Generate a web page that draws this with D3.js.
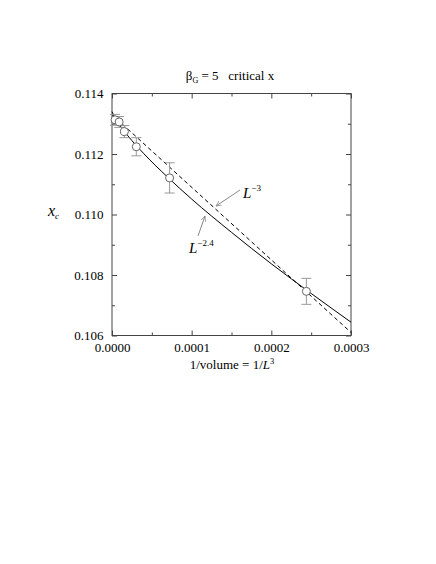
<!DOCTYPE html>
<html>
<head>
<meta charset="utf-8">
<script src="https://cdn.jsdelivr.net/npm/d3@7"></script>
<style>
  body { margin: 0; background: #fff; }
</style>
</head>
<body>
<div id="chart"></div>
<script>
// measured points: 1/L^3 and critical x with error
const invVolume = [0.0000038, 0.0000090, 0.0000156, 0.0000305, 0.0000723, 0.000244];
const xCrit = [0.11313, 0.11306, 0.11274, 0.11224, 0.11121, 0.10746];
const xCritErr = [0.00018, 0.00018, 0.0002, 0.0003, 0.0005, 0.00043];

// fit curves
const fit24X = [0, 0.000005, 0.00001, 0.00002, 0.00004, 0.00007, 0.0001, 0.00015, 0.0002, 0.00025, 0.0003];
const fit24Y = [0.1134, 0.11314, 0.11294, 0.1126, 0.11201, 0.11123, 0.11051, 0.10941, 0.10837, 0.10739, 0.10644];
const fit3X = [0, 0.0003];
const fit3Y = [0.1133, 0.1061];

const xTicks = [0, 0.0001, 0.0002, 0.0003];
const xMinor = [0.00005, 0.00015, 0.00025];
const yTicks = [0.106, 0.108, 0.110, 0.112, 0.114];
const yMinor = [0.107, 0.109, 0.111, 0.113];

const serif = "'Liberation Serif', 'Times New Roman', 'DejaVu Serif', serif";

const svg = d3.select("#chart").append("svg")
    .attr("width", 436)
    .attr("height", 564)
    .attr("font-family", serif);

const x = d3.scaleLinear().domain([0, 0.0003]).range([112, 351]);
const y = d3.scaleLinear().domain([0.106, 0.114]).range([335.5, 93.5]);

const axisColor = "#444";

// axes, ticks pointing inward
const addAxis = (axis, transform, showLabels) => {
    const g = svg.append("g").attr("transform", transform).call(axis)
        .attr("font-family", serif);
    g.select(".domain").remove();
    g.selectAll(".tick line").attr("stroke", axisColor);
    g.selectAll("text")
        .style("font-family", serif)
        .style("font-size", "13px")
        .attr("fill", "#000");
    if (!showLabels) g.selectAll("text").remove();
    return g;
};

addAxis(d3.axisBottom(x).tickValues(xTicks).tickSize(-5).tickPadding(7).tickFormat(d3.format(".4f")), "translate(0,335.5)", true);
addAxis(d3.axisBottom(x).tickValues(xMinor).tickSize(-3), "translate(0,335.5)", false);
addAxis(d3.axisTop(x).tickValues(xTicks).tickSize(-5), "translate(0,93.5)", false);
addAxis(d3.axisTop(x).tickValues(xMinor).tickSize(-3), "translate(0,93.5)", false);
addAxis(d3.axisLeft(y).tickValues(yTicks).tickSize(-5).tickPadding(8.5).tickFormat(d3.format(".3f")), "translate(112,0)", true);
addAxis(d3.axisLeft(y).tickValues(yMinor).tickSize(-3), "translate(112,0)", false);
addAxis(d3.axisRight(y).tickValues(yTicks).tickSize(-5), "translate(351,0)", false);
addAxis(d3.axisRight(y).tickValues(yMinor).tickSize(-3), "translate(351,0)", false);

svg.append("rect")
    .attr("x", x(0))
    .attr("y", y(0.114))
    .attr("width", x(0.0003) - x(0))
    .attr("height", y(0.106) - y(0.114))
    .attr("fill", "none")
    .attr("stroke", axisColor)
    .attr("stroke-width", 1);

// fit lines
const line = d3.line().x(d => x(d[0])).y(d => y(d[1]));

svg.append("path")
    .datum(d3.zip(fit3X, fit3Y))
    .attr("d", line)
    .attr("fill", "none")
    .attr("stroke", "#000")
    .attr("stroke-width", 1)
    .attr("stroke-dasharray", "4,3");

svg.append("path")
    .datum(d3.zip(fit24X, fit24Y))
    .attr("d", line.curve(d3.curveMonotoneX))
    .attr("fill", "none")
    .attr("stroke", "#000")
    .attr("stroke-width", 1);

// error bars
const points = invVolume.map((v, i) => ({ v: v, xc: xCrit[i], err: xCritErr[i] }));
const errG = svg.append("g").attr("stroke", "#999").attr("stroke-width", 1);

points.forEach(d => {
    const px = x(d.v);
    errG.append("line")
        .attr("x1", px).attr("x2", px)
        .attr("y1", y(d.xc - d.err)).attr("y2", y(d.xc + d.err));
    [d.xc - d.err, d.xc + d.err].forEach(e => {
        errG.append("line")
            .attr("x1", px - 5).attr("x2", px + 5)
            .attr("y1", y(e)).attr("y2", y(e));
    });
});

svg.append("g")
    .selectAll("circle")
    .data(points)
    .enter().append("circle")
    .attr("cx", d => x(d.v))
    .attr("cy", d => y(d.xc))
    .attr("r", 4)
    .attr("fill", "#fff")
    .attr("stroke", "#666")
    .attr("stroke-width", 1);

// annotation arrows
svg.append("defs").append("marker")
    .attr("id", "arrow")
    .attr("viewBox", "0 0 10 10")
    .attr("refX", 9).attr("refY", 5)
    .attr("markerWidth", 6).attr("markerHeight", 6)
    .attr("orient", "auto")
    .append("path")
    .attr("d", "M0,1 L9,5 L0,9")
    .attr("fill", "none")
    .attr("stroke", "#888")
    .attr("stroke-width", 1.2);

svg.append("line")
    .attr("x1", 240).attr("y1", 190)
    .attr("x2", 216).attr("y2", 206)
    .attr("stroke", "#888")
    .attr("marker-end", "url(#arrow)");

svg.append("line")
    .attr("x1", 198).attr("y1", 236)
    .attr("x2", 205).attr("y2", 216)
    .attr("stroke", "#888")
    .attr("marker-end", "url(#arrow)");

const lab3 = svg.append("text")
    .attr("x", 243).attr("y", 198)
    .style("font-size", "15px")
    .style("font-style", "italic");
lab3.append("tspan").text("L");
lab3.append("tspan").attr("dy", -7).style("font-size", "9px").style("font-style", "normal").text("−3");

const lab24 = svg.append("text")
    .attr("x", 189).attr("y", 253)
    .style("font-size", "15px")
    .style("font-style", "italic");
lab24.append("tspan").text("L");
lab24.append("tspan").attr("dy", -7).style("font-size", "9px").style("font-style", "normal").text("−2.4");

// title
const title = svg.append("text")
    .attr("x", 230).attr("y", 80)
    .attr("text-anchor", "middle")
    .style("font-size", "13px");
title.append("tspan").text("β");
title.append("tspan").attr("dy", 3).style("font-size", "8px").text("G");
title.append("tspan").attr("dy", -3).text(" = 5 \u00a0 critical x");

// axis labels
const xLabel = svg.append("text")
    .attr("x", 232).attr("y", 369)
    .attr("text-anchor", "middle")
    .style("font-size", "13px");
xLabel.append("tspan").text("1/volume = 1/");
xLabel.append("tspan").style("font-style", "italic").text("L");
xLabel.append("tspan").attr("dy", -5).style("font-size", "8.5px").text("3");

const yLabel = svg.append("text")
    .attr("x", 48).attr("y", 216)
    .style("font-size", "16px")
    .style("font-style", "italic");
yLabel.append("tspan").text("x");
yLabel.append("tspan").attr("dy", 3).style("font-size", "9px").text("c");
</script>
</body>
</html>
